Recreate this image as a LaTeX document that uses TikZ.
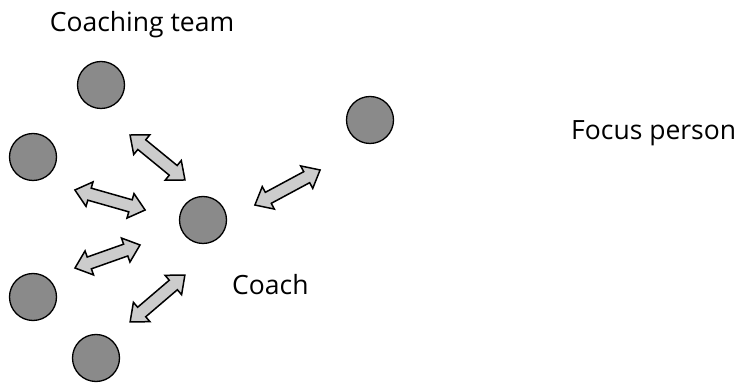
\documentclass[tikz,border=0pt]{standalone}
\usepackage{fontspec}
\setmainfont{Open Sans}
\usetikzlibrary{shapes.arrows}
\definecolor{persongray}{HTML}{8A8A8A}
\definecolor{arrowgray}{HTML}{CCCCCC}
\begin{document}
\begin{tikzpicture}[x=1pt,y=1pt,
  person/.style={circle,draw=black,line width=1.3pt,fill=persongray,minimum size=47pt,inner sep=0pt},
  link/.style={double arrow,draw=black,line width=1.5pt,fill=arrowgray,inner xsep=0pt,inner ysep=5.5pt,
    minimum width=0pt,minimum height=#1,double arrow head extend=6.5pt,double arrow tip angle=80},
  lbl/.style={font=\fontsize{26.5}{30}\selectfont,inner sep=0pt}]
\useasboundingbox (0,0) rectangle (738,385);
% persons
\node[person] (t1) at (101,300) {};
\node[person] (t2) at (33,228) {};
\node[person] (t3) at (33,88) {};
\node[person] (t4) at (96,27) {};
\node[person] (coach) at (203,165) {};
\node[person] (focus) at (370,265) {};
% links
\node[link=71pt,rotate=-39.3] (a1) at (157.5,227.5) {};
\node[link=73pt,rotate=-15.9] (a2) at (110,185) {};
\node[link=69pt,rotate=19.5] (a3) at (107.5,128.5) {};
\node[link=72pt,rotate=40.5] (a4) at (157.5,86.5) {};
\node[link=74pt,rotate=28.3] (a5) at (287.5,197.5) {};
% labels
\node[lbl] (lteam) at (142,360) {Coaching team};
\node[lbl,anchor=west] (lfocus) at (571,252) {Focus person};
\node[lbl,anchor=west] (lcoach) at (232,100) {Coach};
\end{tikzpicture}
\end{document}
